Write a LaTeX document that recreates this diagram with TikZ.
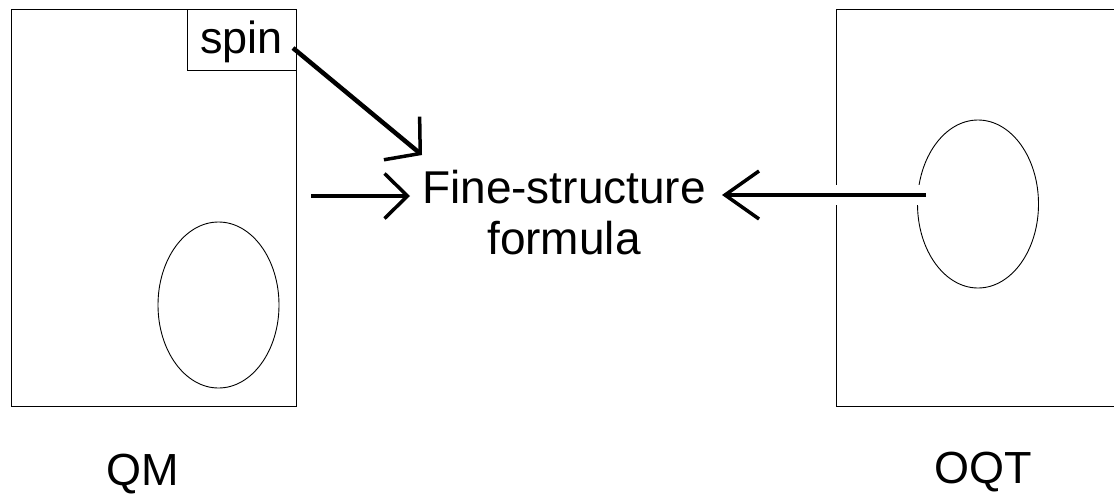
\documentclass[tikz,border=0pt]{standalone}
\usepackage{fontspec}
\setmainfont{Liberation Sans}
\usepackage{tikz}
\usetikzlibrary{arrows.meta, shapes.geometric}
\tikzset{>=latex}
\tikzset{
  box/.style={draw=black, line width=1pt, inner sep=0pt},
  oval/.style={draw=black, ellipse, line width=0.9pt, inner sep=0pt, minimum width=121pt, minimum height=166pt},
  lbl/.style={font=\fontsize{45}{51}\selectfont, inner sep=0pt},
  thickarrow/.style={line width=4.5pt}
}

\begin{document}
\begin{tikzpicture}[x=1pt, y=-1pt]
 \useasboundingbox (0,0) rectangle (1114,493);

 % Boxes
 \node[box, minimum width=285pt, minimum height=397pt] (qmbox) at (153.5,207.5) {};
 \node[box, minimum width=294pt, minimum height=397pt] (oqtbox) at (983,207.5) {};
 \node[box, lbl, minimum width=109pt, minimum height=61pt, text height=32pt, text depth=5pt] (spin) at (241.5,39.5) {spin};

 % Ellipses
 \node[oval] (qmoval) at (218.5,305) {};
 \node[oval, minimum height=168pt] (oqtoval) at (978,204) {};

 % Texts
 \node[lbl, anchor=base, font=\fontsize{46}{51}\selectfont] (fine) at (564,203) {Fine-structure};
 \node[lbl, anchor=base, font=\fontsize{46}{51}\selectfont] (formula) at (564,254) {formula};
 \node[lbl, anchor=base] (qm) at (143,485) {QM};
 \node[lbl, anchor=base] (oqt) at (983,483) {OQT};

 % Arrow ends
 \coordinate (spinstart) at (293,48);
 \coordinate (spintip) at (422,155);
 \coordinate (qmstart) at (311,196);
 \coordinate (qmtip) at (410,196);
 \coordinate (oqtstart) at (926,195);
 \coordinate (oqttip) at (722,195);
 \coordinate (gapend) at (800,195);

 % Arrows
 \draw[thickarrow, -{Straight Barb[length=24pt, width=56pt, line width=3.5pt]}] (spinstart) -- (spintip);
 \draw[thickarrow, -{Straight Barb[length=23pt, width=45pt, line width=3.5pt]}] (qmstart) -- (qmtip);
 \draw[white, line width=20pt] (oqtstart) -- (gapend);
 \draw[thickarrow, -{Straight Barb[length=34pt, width=48pt, line width=3.5pt]}] (oqtstart) -- (oqttip);

\end{tikzpicture}
\end{document}
